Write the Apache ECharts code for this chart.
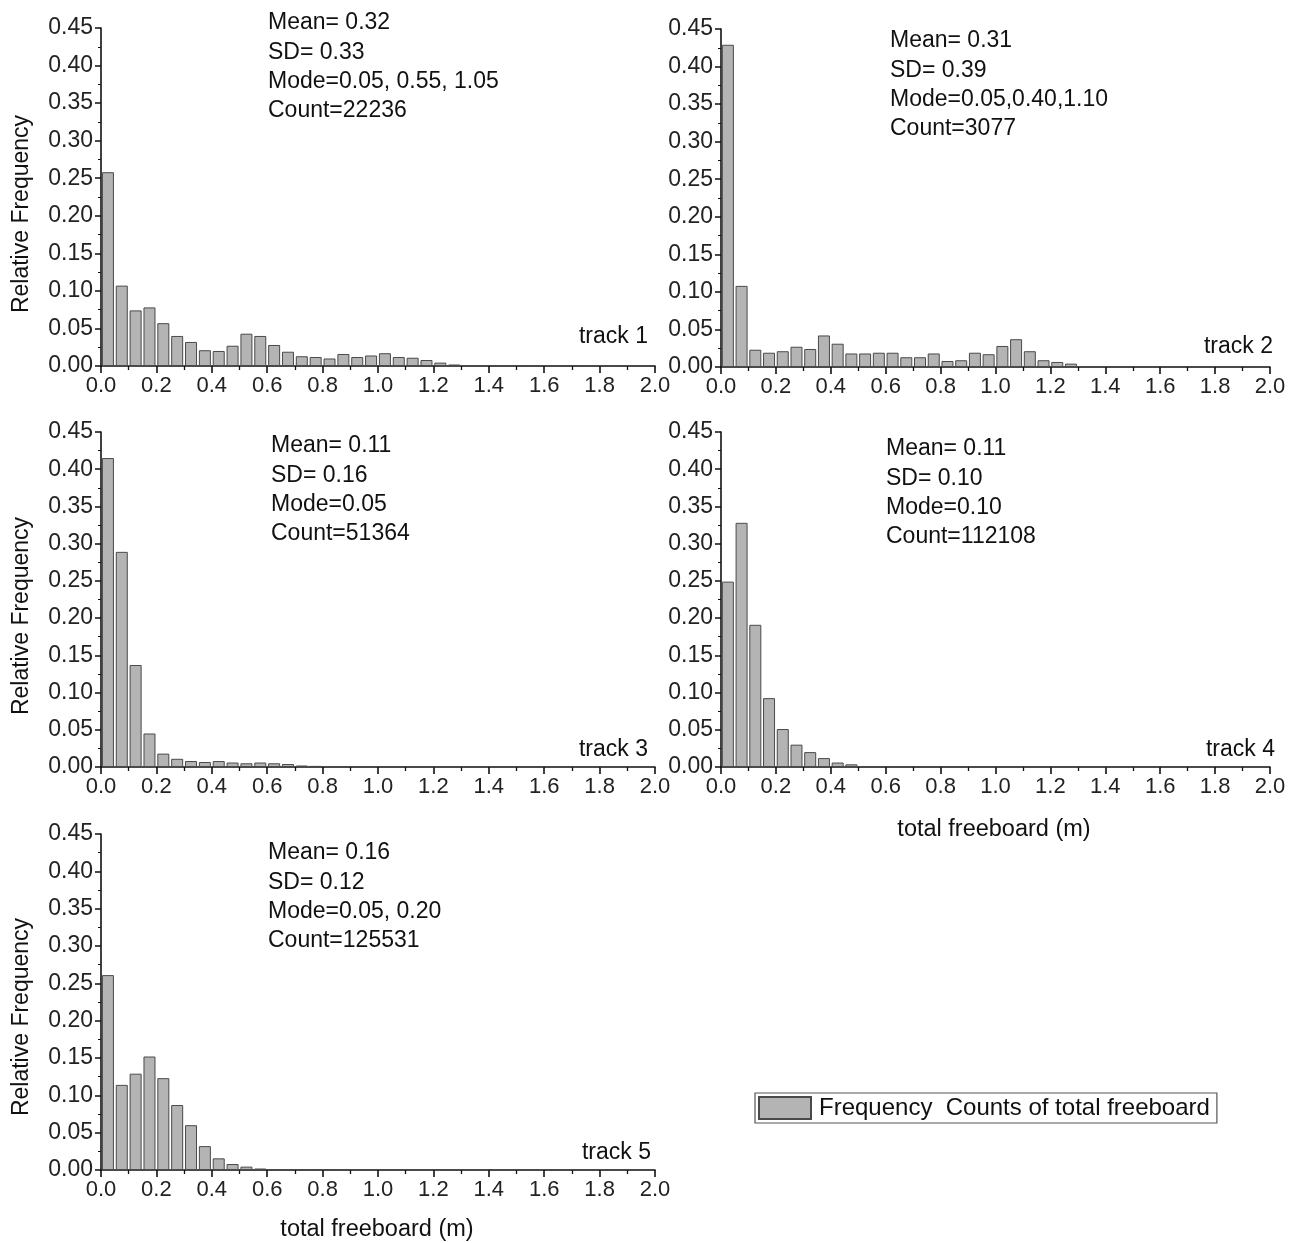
<!DOCTYPE html>
<html>
<head>
<meta charset="utf-8">
<script src="https://cdn.jsdelivr.net/npm/echarts@6/dist/echarts.min.js"></script>
<style>
html,body{margin:0;padding:0;background:#fff;}
#chart{width:1298px;height:1243px;}
</style>
</head>
<body>
<div id="chart"></div>
<script>
// Bin settings (m)
var binWidth = 0.05;
var binCount = 40;

// Relative frequency per 0.05 m bin, starting at 0.00
var track1 = [0.258, 0.107, 0.074, 0.078, 0.057, 0.040, 0.032, 0.021, 0.020, 0.027,
              0.043, 0.040, 0.028, 0.019, 0.013, 0.012, 0.010, 0.016, 0.012, 0.014,
              0.017, 0.012, 0.011, 0.008, 0.0045, 0.002, 0.0013, 0.0008, 0.0006, 0.0005,
              0.0004, 0.0003, 0.0003, 0.0002, 0.0002, 0.0002, 0.0001, 0.0001, 0.0001, 0.0001];
var track2 = [0.429, 0.108, 0.023, 0.019, 0.021, 0.027, 0.024, 0.042, 0.031, 0.018,
              0.018, 0.019, 0.019, 0.013, 0.013, 0.018, 0.008, 0.009, 0.019, 0.017,
              0.028, 0.037, 0.021, 0.009, 0.0067, 0.0045, 0.001, 0.001, 0.001, 0.001,
              0.001, 0.001, 0.001, 0.001, 0.001, 0.001, 0.001, 0.001, 0.001, 0.0005];
var track3 = [0.415, 0.289, 0.137, 0.045, 0.018, 0.011, 0.008, 0.0067, 0.008, 0.006,
              0.005, 0.006, 0.005, 0.004, 0.002, 0.0015, 0.001, 0.001, 0.0005, 0.0003,
              0.0002, 0.0001, 0.0001, 0, 0, 0, 0, 0, 0, 0,
              0, 0, 0, 0, 0, 0, 0, 0, 0, 0];
var track4 = [0.249, 0.328, 0.191, 0.0925, 0.051, 0.030, 0.020, 0.012, 0.006, 0.0036,
              0.0012, 0.0005, 0.0003, 0.0002, 0.0001, 0.0001, 0, 0, 0, 0,
              0, 0, 0, 0, 0, 0, 0, 0, 0, 0,
              0, 0, 0, 0, 0, 0, 0, 0, 0, 0];
var track5 = [0.261, 0.114, 0.129, 0.152, 0.123, 0.087, 0.060, 0.032, 0.0156, 0.008,
              0.0045, 0.002, 0.0008, 0.0004, 0.0002, 0.0001, 0.0001, 0, 0, 0,
              0, 0, 0, 0, 0, 0, 0, 0, 0, 0,
              0, 0, 0, 0, 0, 0, 0, 0, 0, 0];

var statsText = [
  ['Mean= 0.32', 'SD= 0.33', 'Mode=0.05, 0.55, 1.05', 'Count=22236'],
  ['Mean= 0.31', 'SD= 0.39', 'Mode=0.05,0.40,1.10', 'Count=3077'],
  ['Mean= 0.11', 'SD= 0.16', 'Mode=0.05', 'Count=51364'],
  ['Mean= 0.11', 'SD= 0.10', 'Mode=0.10', 'Count=112108'],
  ['Mean= 0.16', 'SD= 0.12', 'Mode=0.05, 0.20', 'Count=125531']
];
var trackNames = ['track 1', 'track 2', 'track 3', 'track 4', 'track 5'];
var seriesName = 'Frequency  Counts of total freeboard';
var yAxisName = 'Relative Frequency';
var xAxisName = 'total freeboard (m)';

var tracks = [track1, track2, track3, track4, track5];

var FONT = '"Liberation Sans", Arial, sans-serif';
var grids = [
  {left: 101, top: 28, width: 554, height: 338},
  {left: 721, top: 29, width: 549, height: 338},
  {left: 101, top: 432, width: 554, height: 335},
  {left: 721, top: 432, width: 549, height: 335},
  {left: 101, top: 834, width: 554, height: 336}
];

function toPairs(arr) {
  return arr.map(function (v, i) { return [(i + 0.5) * binWidth, v]; });
}

var xAxes = [], yAxes = [], series = [];
grids.forEach(function (g, i) {
  xAxes.push({
    type: 'value', gridIndex: i, min: 0, max: binWidth * binCount, interval: 0.2,
    axisLine: {lineStyle: {color: '#111', width: 1.6}},
    axisTick: {length: 7, lineStyle: {color: '#111', width: 1.6}},
    minorTick: {show: true, splitNumber: 2, length: 4, lineStyle: {color: '#111', width: 1.3}},
    splitLine: {show: false},
    axisLabel: {fontFamily: FONT, fontSize: 22, color: '#222', margin: 9,
      formatter: function (v) { return v.toFixed(1); }}
  });
  yAxes.push({
    type: 'value', gridIndex: i, min: 0, max: 0.45, interval: 0.05,
    axisLine: {show: true, lineStyle: {color: '#111', width: 1.6}},
    axisTick: {show: true, length: 6, lineStyle: {color: '#111', width: 1.5}},
    minorTick: {show: true, splitNumber: 2, length: 3, lineStyle: {color: '#111', width: 1}},
    splitLine: {show: false},
    axisLabel: {fontFamily: FONT, fontSize: 23, color: '#222', margin: 8,
      formatter: function (v) { return v.toFixed(2); }}
  });
  series.push({
    type: 'bar', name: seriesName, xAxisIndex: i, yAxisIndex: i,
    data: toPairs(tracks[i]), barWidth: 12, barGap: '-100%',
    itemStyle: {color: '#b4b4b4', borderColor: '#4a4a4a', borderWidth: 1},
    emphasis: {disabled: true}, silent: true
  });
});

var graphics = [];
var statsPos = [[268, 23], [890, 41], [271, 446], [886, 449], [268, 853]];
statsText.forEach(function (lines, i) {
  lines.forEach(function (t, j) {
    graphics.push({type: 'text', x: statsPos[i][0], y: statsPos[i][1] + j * 29.3,
      style: {text: t, font: '23px ' + FONT, fill: '#111', verticalAlign: 'middle'}});
  });
});
var trackPos = [[648, 337], [1273, 347], [648, 750], [1275, 750], [651, 1153]];
trackNames.forEach(function (t, i) {
  graphics.push({type: 'text', x: trackPos[i][0], y: trackPos[i][1],
    style: {text: t, font: '23px ' + FONT, fill: '#111', align: 'right', verticalAlign: 'middle'}});
});
[214, 616, 1017].forEach(function (cy) {
  graphics.push({type: 'text', x: 22, y: cy, rotation: Math.PI / 2,
    style: {text: yAxisName, font: '23px ' + FONT, fill: '#111', align: 'center', verticalAlign: 'middle'}});
});
[[994, 830], [377, 1230]].forEach(function (p) {
  graphics.push({type: 'text', x: p[0], y: p[1],
    style: {text: xAxisName, font: '23.5px ' + FONT, fill: '#111', align: 'center', verticalAlign: 'middle'}});
});

var chart = echarts.init(document.getElementById('chart'), null, {renderer: 'canvas'});
chart.setOption({
  animation: false,
  backgroundColor: '#fff',
  grid: grids,
  xAxis: xAxes,
  yAxis: yAxes,
  series: series,
  legend: {
    show: true, left: 755, top: 1093, orient: 'horizontal',
    data: [seriesName],
    padding: [3, 7, 3, 3],
    borderColor: '#555', borderWidth: 1.2,
    itemWidth: 52, itemHeight: 22, itemGap: 0,
    icon: 'rect',
    textStyle: {fontFamily: FONT, fontSize: 24, color: '#111', lineHeight: 22, padding: [0, 0, 0, 3]},
    selectedMode: false
  },
  graphic: graphics
});
</script>
</body>
</html>
